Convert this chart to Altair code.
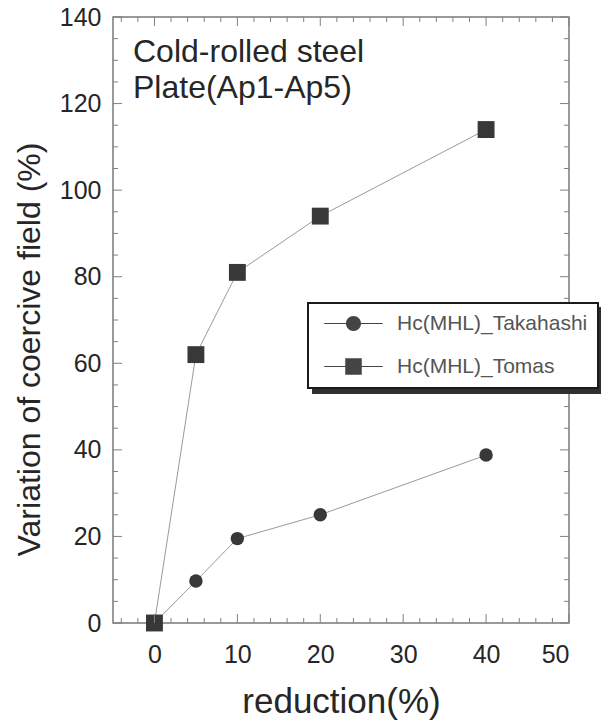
import altair as alt
import pandas as pd

# ---- data ----
reduction = [0, 5, 10, 20, 40]
takahashi = [0, 9.7, 19.5, 25, 38.8]
tomas = [0, 62, 81, 94, 114]
series_names = ["Hc(MHL)_Takahashi", "Hc(MHL)_Tomas"]
annotation_lines = ["Cold-rolled steel", "Plate(Ap1-Ap5)"]
x_major = [0, 10, 20, 30, 40, 50]
x_minor = [v for v in range(-4, 50, 2) if v % 10 != 0]
y_major = [0, 20, 40, 60, 80, 100, 120, 140]
y_minor = [v for v in range(5, 140, 5) if v % 20 != 0]

FONT = "Liberation Sans, Arial, Helvetica, sans-serif"
W, H = 456, 606
TXT = "#262626"
TICK = "#808080"
MARK = "#383838"

df = pd.DataFrame({
    "reduction": reduction * 2,
    "value": takahashi + tomas,
    "series": [series_names[0]] * len(reduction) + [series_names[1]] * len(reduction),
})

xscale = alt.Scale(domain=[-5, 50], nice=False, zero=False)
yscale = alt.Scale(domain=[0, 140], nice=False)

xaxis = alt.Axis(values=x_major, title="reduction(%)", grid=False, ticks=False, tickSize=0,
                 domain=False, labelFont=FONT, labelFontSize=25, labelColor=TXT,
                 labelBaseline="alphabetic", labelPadding=39,
                 titleFont=FONT, titleFontSize=35, titleFontWeight="normal", titleColor=TXT,
                 titleBaseline="alphabetic", titleY=89)
yaxis = alt.Axis(values=y_major, title="Variation of coercive field (%)", grid=False, ticks=False,
                 tickSize=0, domain=False, labelFont=FONT, labelFontSize=25, labelColor=TXT,
                 labelPadding=12,
                 titleFont=FONT, titleFontSize=32, titleFontWeight="normal", titleColor=TXT,
                 titleBaseline="alphabetic", titleAngle=270, titleX=-74, titleY=332)

X = alt.X("reduction:Q", scale=xscale, axis=xaxis)
Y = alt.Y("value:Q", scale=yscale, axis=yaxis)

base = alt.Chart(df)

lines = base.mark_line(color="#9a9a9a", strokeWidth=1).encode(x=X, y=Y, detail="series:N")

pts_circle = base.transform_filter(alt.datum.series == series_names[0]).mark_point(
    filled=True, opacity=1, strokeWidth=0, shape="circle", size=180, color=MARK).encode(x=X, y=Y)
pts_square = base.transform_filter(alt.datum.series == series_names[1]).mark_point(
    filled=True, opacity=1, strokeWidth=0, shape="square", size=285, color=MARK).encode(x=X, y=Y)

# legend glyphs: thin filled bars (the connecting line) + marker, in symbol units
circle_path = ("M-3.9,-0.07H-1V0.07H-3.9Z M1,-0.07H3.9V0.07H1Z "
               "M-1,0A1,1,0,1,1,1,0A1,1,0,1,1,-1,0Z")
square_path = ("M-3.9,-0.07H-1.1V0.07H-3.9Z M1.1,-0.07H3.9V0.07H1.1Z "
               "M-1.1,-1.1H1.1V1.1H-1.1Z")

legend_layer = base.mark_point(filled=True, opacity=0).encode(
    x=X, y=Y,
    color=alt.value("#444444"),
    shape=alt.Shape("series:N",
                    scale=alt.Scale(domain=series_names, range=[circle_path, square_path]),
                    legend=alt.Legend(title=None, orient="none", legendX=195, legendY=286,
                                      fillColor="white", strokeColor="#1a1a1a",
                                      padding=10, symbolSize=225, symbolFillColor="#444444",
                                      symbolOpacity=1, symbolOffset=25, labelOffset=33,
                                      labelFont=FONT, labelFontSize=21, labelColor="#555555",
                                      rowPadding=21, labelLimit=400)),
)

# shadow of the legend box
shadow = alt.Chart(pd.DataFrame({"k": [0]})).mark_rect(color="#303030").encode(
    x=alt.value(199), x2=alt.value(199 + 289), y=alt.value(290), y2=alt.value(290 + 87))

def xticks(vals, length):
    d = alt.Chart(pd.DataFrame({"reduction": vals}))
    bottom = d.mark_rule(color=TICK, strokeWidth=1).encode(x=X, y=alt.value(H), y2=alt.value(H - length))
    top = d.mark_rule(color=TICK, strokeWidth=1).encode(x=X, y=alt.value(0), y2=alt.value(length))
    return [bottom, top]

def yticks(vals, length):
    d = alt.Chart(pd.DataFrame({"value": vals}))
    left = d.mark_rule(color=TICK, strokeWidth=1).encode(y=Y, x=alt.value(0), x2=alt.value(length))
    right = d.mark_rule(color=TICK, strokeWidth=1).encode(y=Y, x=alt.value(W), x2=alt.value(W - length))
    return [left, right]

tick_layers = xticks(x_major, 9) + xticks(x_minor, 5) + yticks(y_major, 9) + yticks(y_minor, 5)

annotation = alt.Chart(pd.DataFrame({"t": ["\n".join(annotation_lines)]})).mark_text(
    align="left", baseline="alphabetic", font=FONT, fontSize=32, lineHeight=36, color=TXT,
    lineBreak="\n").encode(x=alt.value(20), y=alt.value(45), text="t:N")

chart = alt.layer(
    lines, pts_circle, pts_square, *tick_layers, annotation, shadow, legend_layer
).properties(
    width=W, height=H,
    padding={"left": 113, "top": 17, "right": 34, "bottom": 101},
    autosize=alt.AutoSizeParams(type="none"),
    background="white",
).configure_view(stroke="#7a7a7a", strokeWidth=1.5).configure_legend(strokeWidth=2)

chart.save("out.html", embed_options={"renderer": "svg", "actions": False})
